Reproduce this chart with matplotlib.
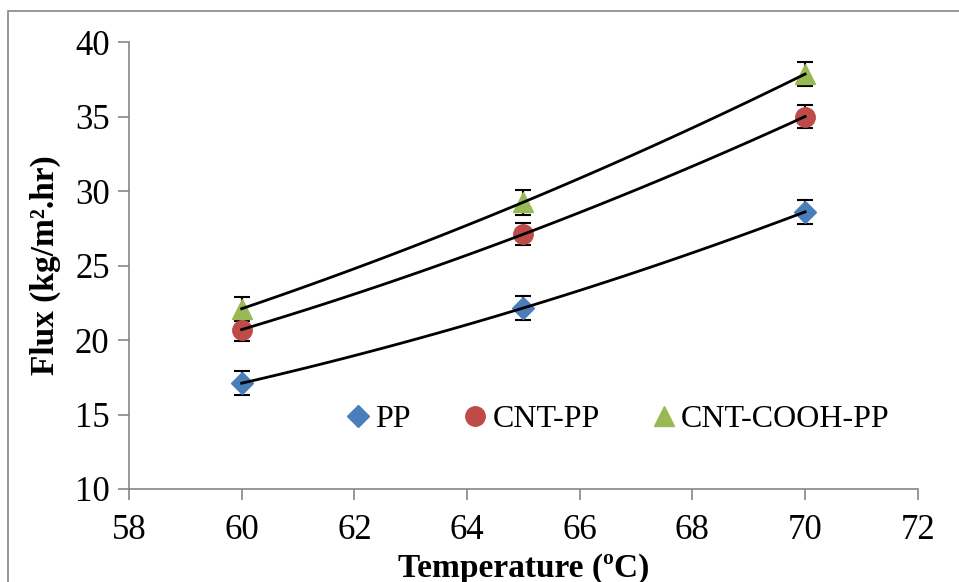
import numpy as np
import matplotlib.pyplot as plt
from matplotlib.patches import Rectangle

plt.rcParams['font.family'] = ['Liberation Serif', 'DejaVu Serif']

# data
temps = [60, 65, 70]
pp = [17.1, 22.15, 28.6]
cnt_pp = [20.7, 27.1, 35.0]
cnt_cooh_pp = [22.1, 29.25, 37.85]
err_pp = [0.8, 0.8, 0.8]
err_cnt = [0.8, 0.75, 0.8]
err_cooh = [0.8, 0.85, 0.8]

series = [
    ("PP", pp, err_pp, "#4a7ebb", "D", 11),
    ("CNT-PP", cnt_pp, err_cnt, "#be4b48", "o", 14),
    ("CNT-COOH-PP", cnt_cooh_pp, err_cooh, "#98b954", "^", 14),
]

fig = plt.figure(figsize=(9.59, 5.82), dpi=100)
ax = fig.add_axes([0.1345, 0.1598, 0.8225, 0.768])

# outer chart frame (cut by the right and bottom edges)
fig.patches.append(Rectangle((8 / 959, -0.05), 1.2, 1 - 11 / 582 + 0.05,
                             transform=fig.transFigure, fill=False,
                             edgecolor="#868686", lw=1.2))

xs = np.linspace(min(temps), max(temps), 100)
for name, vals, err, col, mk, ms in series:
    ax.errorbar(temps, vals, yerr=err, fmt="none", ecolor="black",
                elinewidth=1.5, capsize=6, capthick=1.5, zorder=2)
    ax.plot(temps, vals, linestyle="none", marker=mk, color=col,
            markersize=ms, label=name, zorder=3)
    # trendline
    c = np.polyfit(temps, vals, 2)
    ax.plot(xs, np.polyval(c, xs), color="black", lw=2, zorder=4)

ax.set_xlim(58, 72)
ax.set_ylim(10, 40)
ax.set_xticks(range(58, 73, 2))
ax.set_yticks(range(10, 41, 5))

for s in ["top", "right"]:
    ax.spines[s].set_visible(False)
for s in ["left", "bottom"]:
    ax.spines[s].set_color("#868686")
    ax.spines[s].set_linewidth(1.2)
ax.tick_params(axis="both", direction="out", length=8, width=1.2,
               color="#868686", labelsize=25, pad=6)
ax.tick_params(axis="x", pad=10)

ax.set_xlabel("Temperature (ºC)", fontsize=24, fontweight="bold", labelpad=4)
ax.set_ylabel("Flux (kg/m².hr)", fontsize=24, fontweight="bold",
              labelpad=10)

ax.legend(loc="center left", bbox_to_anchor=(0.264, 0.155), ncol=3,
          frameon=False, fontsize=23, handletextpad=-0.1, columnspacing=1.35,
          handlelength=1.3, borderpad=0, borderaxespad=0)

fig.savefig("out.png", dpi=100)
